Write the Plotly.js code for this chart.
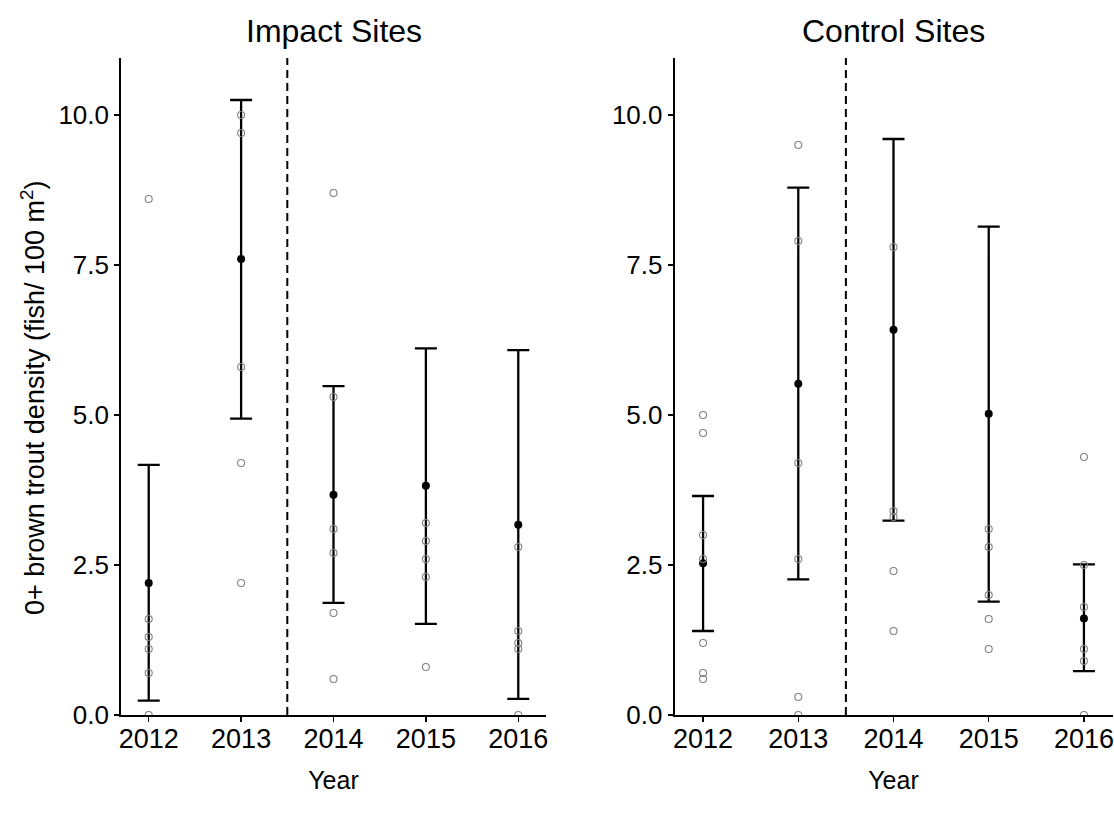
<!DOCTYPE html>
<html>
<head>
<meta charset="utf-8">
<script src="https://cdn.plot.ly/plotly-3.0.1.min.js"></script>
<style>html,body{margin:0;padding:0;background:#fff;}#chart{width:1114px;height:819px;}</style>
</head>
<body>
<div id="chart"></div>
<script>
// ---- data ----
const years = [2012, 2013, 2014, 2015, 2016];
const yearLabels = ["2012", "2013", "2014", "2015", "2016"];

// individual site values (Impact)
const impact2012 = [8.6, 1.6, 1.3, 1.1, 0.7, 0.0];
const impact2013 = [10.0, 9.7, 5.8, 4.2, 2.2];
const impact2014 = [8.7, 5.3, 3.1, 2.7, 1.7, 0.6];
const impact2015 = [3.2, 2.9, 2.6, 2.3, 0.8];
const impact2016 = [2.8, 1.4, 1.2, 1.1, 0.0];
const impactMean  = [2.20, 7.60, 3.67, 3.82, 3.17];
const impactUpper = [4.17, 10.25, 5.48, 6.11, 6.08];
const impactLower = [0.24, 4.94, 1.87, 1.52, 0.27];

// individual site values (Control)
const control2012 = [5.0, 4.7, 3.0, 2.6, 1.2, 0.7, 0.6];
const control2013 = [9.5, 7.9, 4.2, 2.6, 0.3, 0.0];
const control2014 = [7.8, 3.4, 3.3, 2.4, 1.4];
const control2015 = [3.1, 2.8, 2.0, 1.6, 1.1];
const control2016 = [4.3, 2.5, 1.8, 1.1, 0.9, 0.0];
const controlMean  = [2.53, 5.52, 6.42, 5.02, 1.61];
const controlUpper = [3.65, 8.79, 9.60, 8.14, 2.51];
const controlLower = [1.40, 2.26, 3.24, 1.89, 0.73];

const yTicks = [0, 2.5, 5, 7.5, 10];
const breakYear = 2013.5;

// ---- build ----
function flatten(groups) {
  const xs = [], ys = [];
  groups.forEach((g, i) => g.forEach(v => { xs.push(years[i]); ys.push(v); }));
  return {xs, ys};
}
const imp = flatten([impact2012, impact2013, impact2014, impact2015, impact2016]);
const ctl = flatten([control2012, control2013, control2014, control2015, control2016]);

const FONT = "Liberation Sans, Arial, sans-serif";
const TXT = "#000000";

function pointsTrace(d, xa, ya) {
  return {
    type: "scatter", mode: "markers", x: d.xs, y: d.ys, xaxis: xa, yaxis: ya,
    marker: {symbol: "circle-open", size: 7, color: "#808080", line: {width: 1.1, color: "#808080"}},
    showlegend: false, hoverinfo: "x+y"
  };
}
function meanTrace(mean, up, lo, xa, ya) {
  return {
    type: "scatter", mode: "markers", x: years, y: mean, xaxis: xa, yaxis: ya,
    marker: {symbol: "circle", size: 8, color: "#000000"},
    error_y: {
      type: "data", symmetric: false,
      array: up.map((u, i) => u - mean[i]),
      arrayminus: lo.map((l, i) => mean[i] - l),
      color: "#000000", thickness: 2.3, width: 11
    },
    showlegend: false
  };
}

const data = [
  meanTrace(impactMean, impactUpper, impactLower, "x", "y"),
  pointsTrace(imp, "x", "y"),
  meanTrace(controlMean, controlUpper, controlLower, "x2", "y2"),
  pointsTrace(ctl, "x2", "y2")
];

const W = 1114, H = 819;
const yDom = [1 - 715 / H, 1 - 58 / H];
const xDom1 = [121 / W, 546 / W];
const xDom2 = [674.5 / W, 1112.5 / W];

function xAxis(dom, anchor) {
  return {
    domain: dom, anchor: anchor, range: [2011.7, 2016.3],
    tickvals: years, ticktext: yearLabels,
    showline: true, linecolor: "#000", linewidth: 1.8,
    ticks: "outside", ticklen: 5, tickwidth: 1.5, tickcolor: "#000",
    ticklabelstandoff: -6,
    showgrid: false, zeroline: false,
    tickfont: {family: FONT, size: 27, color: TXT},
    title: {text: "Year", font: {family: FONT, size: 25, color: TXT}, standoff: 18}
  };
}
function yAxis(anchor) {
  return {
    domain: yDom, anchor: anchor, range: [0, 10.95],
    tickvals: yTicks, tickformat: ".1f",
    showline: true, linecolor: "#000", linewidth: 1.8,
    ticks: "outside", ticklen: 5, tickwidth: 1.5, tickcolor: "#000",
    showgrid: false, zeroline: false,
    tickfont: {family: FONT, size: 26, color: TXT}
  };
}

const layout = {
  width: W, height: H,
  margin: {l: 0, r: 0, t: 0, b: 0},
  paper_bgcolor: "#fff", plot_bgcolor: "#fff",
  font: {family: FONT, color: TXT},
  showlegend: false,
  xaxis: xAxis(xDom1, "y"),
  yaxis: yAxis("x"),
  xaxis2: xAxis(xDom2, "y2"),
  yaxis2: yAxis("x2"),
  shapes: [
    {type: "line", xref: "x", yref: "y domain", x0: breakYear, x1: breakYear, y0: 0, y1: 1,
     line: {color: "#000", width: 2, dash: "8px,5px"}},
    {type: "line", xref: "x2", yref: "y2 domain", x0: breakYear, x1: breakYear, y0: 0, y1: 1,
     line: {color: "#000", width: 2, dash: "8px,5px"}}
  ],
  annotations: [
    {text: "Impact Sites", xref: "paper", yref: "paper", x: (xDom1[0] + xDom1[1]) / 2, y: 1 - 31 / H,
     xanchor: "center", yanchor: "middle", showarrow: false, font: {family: FONT, size: 32, color: TXT}},
    {text: "Control Sites", xref: "paper", yref: "paper", x: (xDom2[0] + xDom2[1]) / 2, y: 1 - 31 / H,
     xanchor: "center", yanchor: "middle", showarrow: false, font: {family: FONT, size: 32, color: TXT}},
    {text: "0+ brown trout density (fish/ 100 m<sup>2</sup>)", xref: "paper", yref: "paper",
     x: 33 / W, y: 1 - 398 / H, xanchor: "center", yanchor: "middle", textangle: -90,
     showarrow: false, font: {family: FONT, size: 27, color: TXT}}
  ]
};

Plotly.newPlot("chart", data, layout, {displayModeBar: false, staticPlot: true});
</script>
</body>
</html>
